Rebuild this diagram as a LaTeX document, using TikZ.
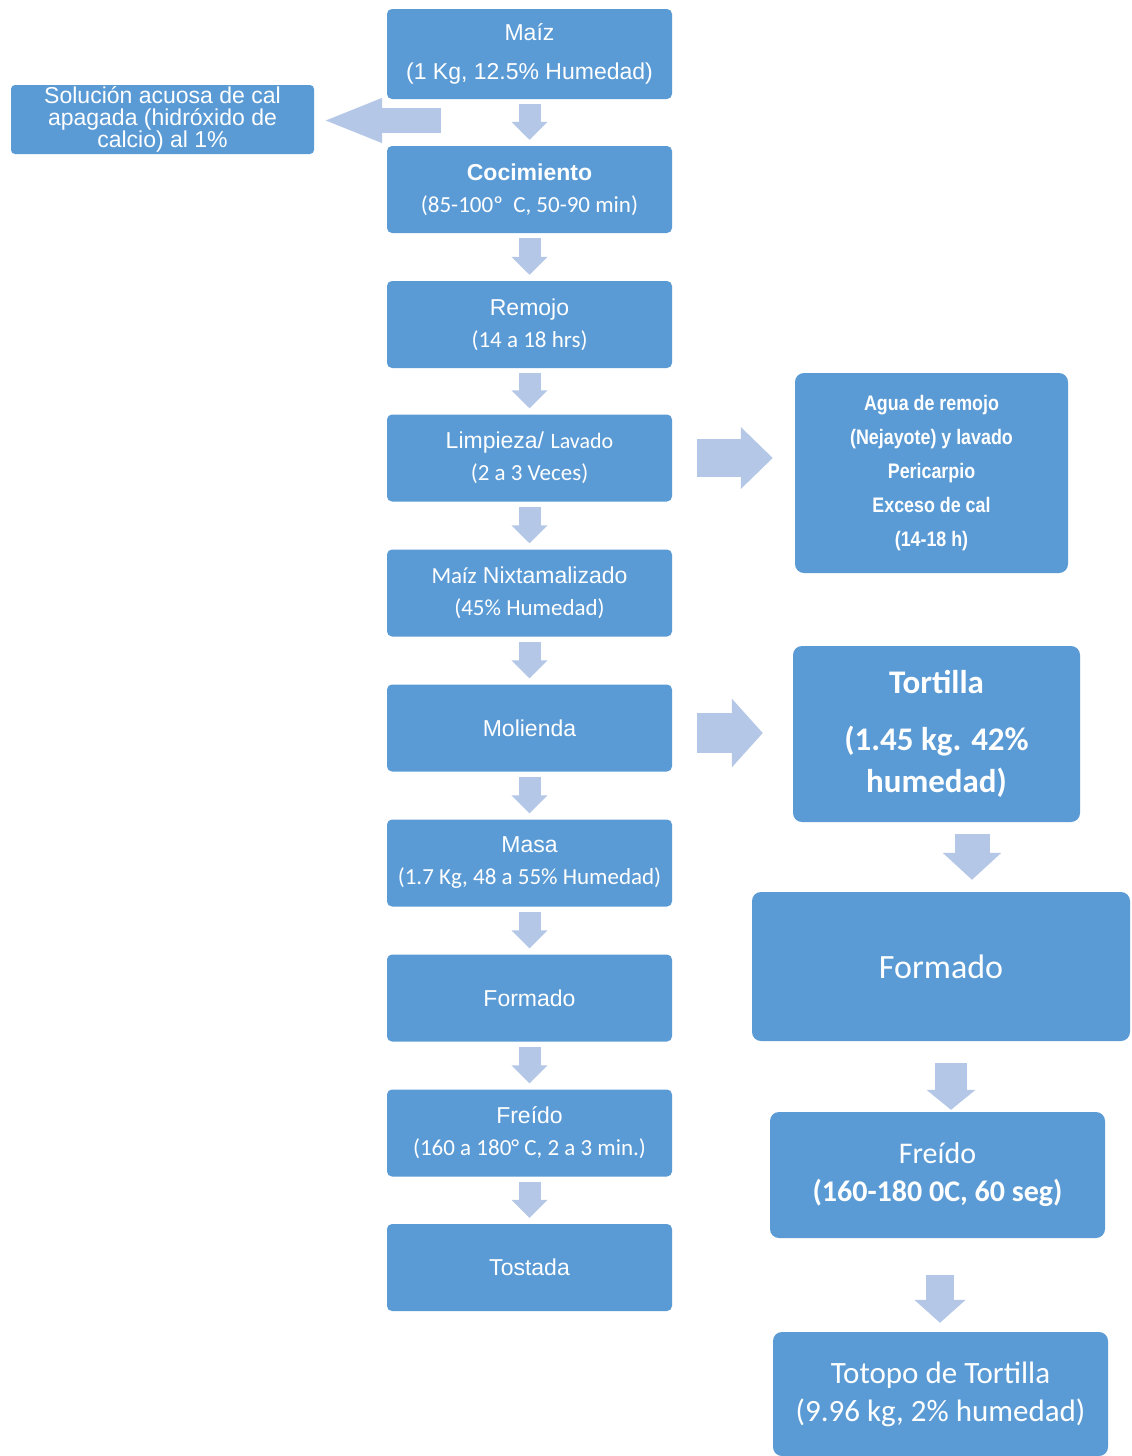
\documentclass[tikz,border=0pt]{standalone}
\usepackage{fontspec}
\setmainfont{Liberation Sans}
\newfontfamily\carl{Carlito}
\newfontfamily\aguafont[FakeStretch=0.85]{Liberation Sans}
\usetikzlibrary{arrows.meta, calc}

\definecolor{boxblue}{HTML}{5B9BD5}
\definecolor{arrowblue}{HTML}{B4C7E7}

\tikzset{
    procbox/.style={fill=boxblue, rounded corners=5pt, text=white, align=center,
        inner sep=0pt, minimum width=285pt, minimum height=87pt,
        font=\fontsize{23}{32}\selectfont},
    sidebox/.style={fill=boxblue, rounded corners=9pt, text=white, align=center,
        inner sep=0pt},
    downarr/.style={draw=arrowblue, line width=22pt,
        -{Triangle[width=35pt,length=18pt]}, shorten <=5pt, shorten >=6pt},
    rightarr/.style={draw=arrowblue, line width=38pt,
        -{Triangle[width=60pt,length=32pt]}},
}

\begin{document}
\begin{tikzpicture}[x=1pt, y=-1pt]
        \useasboundingbox[fill=white] (0,0) rectangle (1132,1456);

        % main column
        \node[procbox, minimum height=90pt, font=\fontsize{23}{39}\selectfont] (maiz) at (529.5,54) {Maíz\\(1 Kg, 12.5\% Humedad)};
        \node[procbox] (coc) at (529.5,189.5) {\bfseries Cocimiento\\{\carl (85-100º\ \ C, 50-90 min)}};
        \node[procbox] (remojo) at (529.5,324.5) {Remojo\\{\carl (14 a 18 hrs)}};
        \node[procbox] (limpieza) at (529.5,458) {Limpieza/ {\carl\fontsize{22}{32}\selectfont Lavado}\\{\carl (2 a 3 Veces)}};
        \node[procbox] (nixta) at (529.5,593) {{\carl Maíz} Nixtamalizado\\{\carl (45\% Humedad)}};
        \node[procbox] (molienda) at (529.5,728) {Molienda};
        \node[procbox] (masa) at (529.5,863) {Masa\\{\carl (1.7 Kg, 48 a 55\% Humedad)}};
        \node[procbox] (formado) at (529.5,998) {Formado};
        \node[procbox] (freido) at (529.5,1133) {Freído\\{\carl (160 a 180° C, 2 a 3 min.)}};
        \node[procbox] (tostada) at (529.5,1267.5) {Tostada};

        % side boxes
        \node[sidebox, rounded corners=4pt, minimum width=303pt, minimum height=69pt,
            font=\fontsize{23}{22}\selectfont] (solucion) at (162.5,119.5)
            {Solución acuosa de cal\\apagada (hidróxido de\\calcio) al 1\%};
        \node[sidebox, minimum width=273pt, minimum height=200pt,
            font=\aguafont\bfseries\fontsize{21}{34}\selectfont] (agua) at (931.5,473)
            {Agua de remojo\\(Nejayote) y lavado\\Pericarpio\\Exceso de cal\\(14-18 h)};
        \node[sidebox, minimum width=287pt, minimum height=176pt,
            font=\carl\bfseries\fontsize{33}{42}\selectfont] (tortilla) at (936.5,734)
            {Tortilla\\[15pt](1.45 kg. 42\%\\humedad)};
        \node[sidebox, minimum width=378pt, minimum height=149pt,
            font=\carl\fontsize{34}{40}\selectfont] (formadoR) at (941,966.5) {Formado};
        \node[sidebox, minimum width=335pt, minimum height=126pt,
            font=\carl\fontsize{30}{38}\selectfont] (freidoR) at (937.5,1175)
            {Freído\\{\bfseries (160-180 0C, 60 seg)}};
        \node[sidebox, minimum width=335pt, minimum height=124pt,
            font=\carl\fontsize{31}{38}\selectfont] (totopo) at (940.5,1394)
            {Totopo de Tortilla\\(9.96 kg, 2\% humedad)};

        % arrows down the column
        \draw[downarr] (maiz) -- (coc);
        \draw[downarr] (coc) -- (remojo);
        \draw[downarr] (remojo) -- (limpieza);
        \draw[downarr] (limpieza) -- (nixta);
        \draw[downarr] (nixta) -- (molienda);
        \draw[downarr] (molienda) -- (masa);
        \draw[downarr] (masa) -- (formado);
        \draw[downarr] (formado) -- (freido);
        \draw[downarr] (freido) -- (tostada);

        % arrows to the side
        \coordinate (solsrc) at (441,120.5);
        \draw[rightarr, line width=25pt, -{Triangle[width=40pt,length=60pt]}, shorten >=8pt]
            (solsrc) -- (solsrc -| solucion.east);
        \draw[rightarr, shorten <=25pt, shorten >=22pt]
            (limpieza.east) -- (limpieza.east -| agua.west);
        \draw[rightarr, line width=40pt, -{Triangle[width=67pt,length=31pt]}, shorten <=25pt, shorten >=30pt]
            ([yshift=-5pt]molienda.east) -- ([yshift=-5pt]molienda.east -| tortilla.west);

        % arrows down the right side
        \coordinate (tx) at (972,0);
        \coordinate (fx) at (951,0);
        \coordinate (px) at (940,0);
        \draw[downarr, line width=35pt, -{Triangle[width=57pt,length=27pt]}, shorten <=12pt, shorten >=12pt]
            (tortilla.south -| tx) -- (formadoR.north -| tx);
        \draw[downarr, line width=32pt, -{Triangle[width=48pt,length=20pt]}, shorten <=22pt, shorten >=2pt]
            (formadoR.south -| fx) -- (freidoR.north -| fx);
        \draw[downarr, line width=28pt, -{Triangle[width=50pt,length=23pt]}, shorten <=37pt, shorten >=9pt]
            (freidoR.south -| px) -- (totopo.north -| px);

    \end{tikzpicture}
\end{document}
